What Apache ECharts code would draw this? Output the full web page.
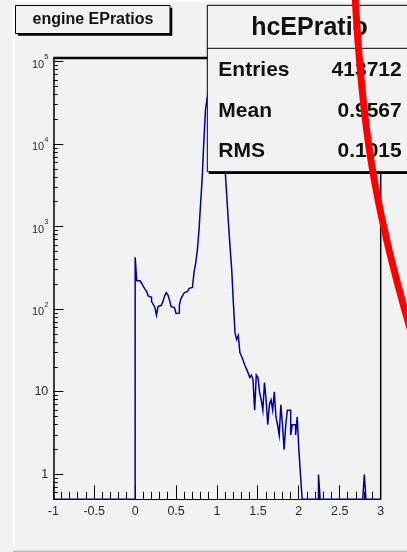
<!DOCTYPE html>
<html>
<head>
<meta charset="utf-8">
<title>engine EPratios</title>
<script src="https://cdn.jsdelivr.net/npm/echarts@6/dist/echarts.min.js"></script>
<style>
  html, body { margin: 0; padding: 0; background: #f2f2f2; }
  #chart { width: 407px; height: 552px; }
</style>
</head>
<body>
<div id="chart"></div>
<script>
// Histogram binning (x range and bin width)
const X_MIN = -1;
const X_MAX = 3;
const BIN_WIDTH = 0.02;

// Log y range of the frame
const Y_MIN = 0.5;
const Y_MAX = 1.11e5;

// Contents of consecutive bins, first bin starting at FILLED_START
const FILLED_START = 0.0;
const counts = [
  427, 222, 222, 220, 206, 190, 176, 165, 145, 140,
  125, 115, 107, 85, 108, 112, 118, 125, 145, 159,
  150, 130, 108, 105, 100, 89, 90, 112, 135, 147,
  159, 165, 172, 180, 184, 186, 285, 365, 523, 915,
  1930, 4060, 11300, 26700, 36000, 46000, 54000, 60000, 55000, 42000,
  28000, 16000, 10000, 7000, 5600, 4800, 2300, 1100, 560, 300,
  120, 52, 43, 48, 30, 27, 24, 21, 19, 17,
  15, 16, 14, 6, 16, 15, 10, 8, 6, 13,
  8, 4, 7, 8, 6, 10, 5, 4, 3, 7,
  4, 2, 4, 6, 6, 3, 4, 4, 3, 5,
  2, 1
];
// Single isolated bins further out: [bin low edge, content]
const isolatedBins = [[2.24, 1], [2.80, 1]];

// Axis tick values
const xMajorTicks = [-1, -0.5, 0, 0.5, 1, 1.5, 2, 2.5, 3];
const yDecades = [1, 10, 100, 1000, 10000, 100000];
const yMinorFactors = [2, 3, 4, 5, 6, 7, 8, 9];

// Text of the title and statistics boxes
const titleText = 'engine EPratios';
const statsTitle = 'hcEPratio';
const statsLabels = ['Entries', 'Mean', 'RMS'];
const statsValues = ['413712', '0.9567', '0.1015'];

// ---- build the full bin table ----
const nBins = Math.round((X_MAX - X_MIN) / BIN_WIDTH);
const contents = new Array(nBins).fill(0);
const firstIdx = Math.round((FILLED_START - X_MIN) / BIN_WIDTH);
counts.forEach((c, i) => { contents[firstIdx + i] = c; });
isolatedBins.forEach(([edge, c]) => { contents[Math.round((edge - X_MIN) / BIN_WIDTH)] = c; });

// histogram outline: each bin contributes its low and high edge at its height;
// empty bins sit on the frame floor
const histData = [];
for (let i = 0; i < nBins; i++) {
  const lo = +(X_MIN + i * BIN_WIDTH).toFixed(4);
  const hi = +(X_MIN + (i + 1) * BIN_WIDTH).toFixed(4);
  const h = Math.max(contents[i], Y_MIN);
  histData.push([lo, h], [hi, h]);
}

// minor tick positions
const xMinorTicks = [];
for (let k = 0; k <= Math.round((X_MAX - X_MIN) / 0.1); k++) {
  const v = +(X_MIN + k * 0.1).toFixed(4);
  if (!xMajorTicks.some(m => Math.abs(m - v) < 1e-9)) xMinorTicks.push(v);
}
const yMinorTicks = [];
[0.1].concat(yDecades).forEach(d => {
  yMinorFactors.forEach(f => {
    const v = d * f;
    if (v >= Y_MIN - 1e-9 && v <= Y_MAX) yMinorTicks.push(v);
  });
});

const FONT = "'Liberation Sans', Arial, Helvetica, sans-serif";
const INK = '#000000';
const LABEL = '#2a2a2a';
const HIST_COLOR = '#00009c';
const BG = '#f2f2f2';

const chart = echarts.init(document.getElementById('chart'), null, { renderer: 'canvas' });

function crisp(v) { return Math.round(v - 0.5) + 0.5; }

const option = {
  animation: false,
  backgroundColor: BG,
  grid: {
    left: 53.3, right: 26.3, top: 58, bottom: 52.7,
    containLabel: false, outerBoundsMode: 'none'
  },
  xAxis: {
    type: 'value',
    min: X_MIN, max: X_MAX, interval: 0.5,
    axisLine: { onZero: false, lineStyle: { color: INK, width: 1 } },
    axisTick: { show: false },
    splitLine: { show: false },
    axisLabel: { fontSize: 12.5, color: LABEL, margin: 6, fontFamily: FONT }
  },
  yAxis: {
    type: 'log', logBase: 10,
    min: Y_MIN, max: Y_MAX,
    axisLine: { onZero: false, lineStyle: { color: INK, width: 1.5 } },
    axisTick: { show: false },
    splitLine: { show: false },
    axisLabel: {
      margin: 5,
      color: LABEL,
      fontFamily: FONT,
      fontSize: 12.5,
      formatter: function (v) {
        const lg = Math.log10(v);
        const n = Math.round(lg);
        if (Math.abs(lg - n) > 1e-6) return '';
        if (n === 0) return '1';
        if (n === 1) return '10';
        return '{b|10}{e|' + n + '}';
      },
      rich: {
        b: { fontSize: 11, fontFamily: FONT, color: LABEL, lineHeight: 17, verticalAlign: 'bottom' },
        e: { fontSize: 7.5, fontFamily: FONT, color: LABEL, lineHeight: 10, verticalAlign: 'top' }
      }
    }
  },
  series: [
    {
      name: 'ticks',
      type: 'custom',
      coordinateSystem: 'cartesian2d',
      clip: false,
      silent: true,
      z: 3,
      data: [[X_MIN, Y_MIN]],
      renderItem: function (params, api) {
        const children = [];
        const seg = (x1, y1, x2, y2) => children.push({
          type: 'line',
          shape: { x1: x1, y1: y1, x2: x2, y2: y2 },
          style: { stroke: INK, lineWidth: 1 }
        });
        yDecades.forEach(v => {
          const p = api.coord([X_MIN, v]);
          seg(p[0], crisp(p[1]), p[0] + 10, crisp(p[1]));
        });
        yMinorTicks.forEach(v => {
          const p = api.coord([X_MIN, v]);
          seg(p[0], crisp(p[1]), p[0] + 4.5, crisp(p[1]));
        });
        xMajorTicks.forEach(v => {
          const p = api.coord([v, Y_MIN]);
          seg(crisp(p[0]), p[1], crisp(p[0]), p[1] - 14);
        });
        xMinorTicks.forEach(v => {
          const p = api.coord([v, Y_MIN]);
          seg(crisp(p[0]), p[1], crisp(p[0]), p[1] - 7.5);
        });
        return { type: 'group', children: children };
      }
    },
    {
      name: 'hcEPratio',
      type: 'line',
      showSymbol: false,
      symbol: 'none',
      clip: false,
      z: 4,
      data: histData,
      lineStyle: { color: HIST_COLOR, width: 1.5, join: 'miter' }
    }
  ],
  graphic: [
    // canvas border highlights
    { type: 'rect', z: 1, shape: { x: 13, y: 0, width: 1.5, height: 552 }, style: { fill: '#ffffff' } },
    { type: 'rect', z: 1, shape: { x: 13, y: 0, width: 394, height: 2 }, style: { fill: '#ffffff' } },
    { type: 'rect', z: 1, shape: { x: 13, y: 550.5, width: 394, height: 1.5 }, style: { fill: '#bdbdbd' } },
    // frame: heavy top edge and right edge
    { type: 'line', z: 6, shape: { x1: 53.3, y1: 58, x2: 380.7, y2: 58 }, style: { stroke: INK, lineWidth: 2.5 } },
    { type: 'line', z: 6, shape: { x1: 380.7, y1: 58, x2: 380.7, y2: 499.3 }, style: { stroke: INK, lineWidth: 1.5 } },
    // title box
    { type: 'rect', z: 50, shape: { x: 17.8, y: 7.8, width: 154.5, height: 28 }, style: { fill: INK } },
    { type: 'rect', z: 51, shape: { x: 15.5, y: 5.5, width: 154.5, height: 28 }, style: { fill: BG, stroke: INK, lineWidth: 1 } },
    { type: 'text', z: 52, style: { text: titleText, x: 93, y: 20, align: 'center', verticalAlign: 'middle',
      font: 'bold 16px ' + FONT, fill: '#111' } },
    // statistics box
    { type: 'rect', z: 60, shape: { x: 208.8, y: 7.5, width: 220, height: 166.4 }, style: { fill: INK } },
    { type: 'rect', z: 61, shape: { x: 207.3, y: 5.3, width: 220, height: 166.4 }, style: { fill: BG, stroke: INK, lineWidth: 1 } },
    { type: 'line', z: 62, shape: { x1: 207.3, y1: 48.3, x2: 407, y2: 48.3 }, style: { stroke: INK, lineWidth: 1 } },
    { type: 'text', z: 62, style: { text: statsTitle, x: 309.5, y: 28, align: 'center', verticalAlign: 'middle',
      font: 'bold 25px ' + FONT, fill: '#111' } },
    { type: 'text', z: 62, style: { text: statsLabels[0], x: 218.3, y: 70, align: 'left', verticalAlign: 'middle', font: 'bold 21px ' + FONT, fill: '#111' } },
    { type: 'text', z: 62, style: { text: statsValues[0], x: 401.7, y: 70, align: 'right', verticalAlign: 'middle', font: 'bold 21px ' + FONT, fill: '#111' } },
    { type: 'text', z: 62, style: { text: statsLabels[1], x: 218.3, y: 111.7, align: 'left', verticalAlign: 'middle', font: 'bold 21px ' + FONT, fill: '#111' } },
    { type: 'text', z: 62, style: { text: statsValues[1], x: 401.7, y: 111.7, align: 'right', verticalAlign: 'middle', font: 'bold 21px ' + FONT, fill: '#111' } },
    { type: 'text', z: 62, style: { text: statsLabels[2], x: 218.3, y: 151.7, align: 'left', verticalAlign: 'middle', font: 'bold 21px ' + FONT, fill: '#111' } },
    { type: 'text', z: 62, style: { text: statsValues[2], x: 401.7, y: 151.7, align: 'right', verticalAlign: 'middle', font: 'bold 21px ' + FONT, fill: '#111' } },
    // red freehand stroke across the right side
    { type: 'bezierCurve', z: 90,
      shape: { x1: 355, y1: -5, cpx1: 362, cpy1: 120, cpx2: 372, cpy2: 200, x2: 412, y2: 335 },
      style: { stroke: '#ff0000', lineWidth: 7, fill: null, lineCap: 'round' } }
  ]
};

chart.setOption(option);
</script>
</body>
</html>
